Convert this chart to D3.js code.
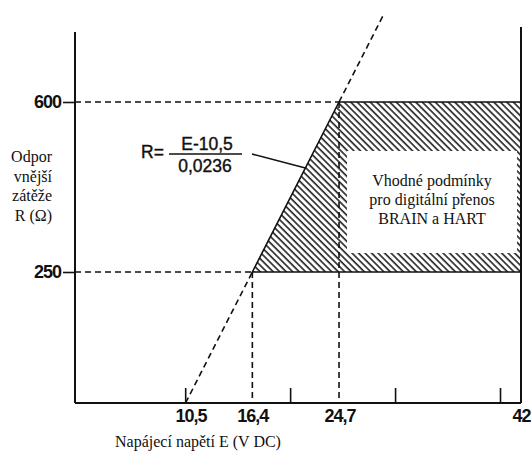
<!DOCTYPE html>
<html>
<head>
<meta charset="utf-8">
<script src="https://cdn.jsdelivr.net/npm/d3@7"></script>
<style>
  body { margin: 0; background: #fff; }
  svg { display: block; }
  .serif { font-family: "Liberation Serif", "Times New Roman", serif; font-size: 16px; fill: #111; }
  .sans { font-family: "Liberation Sans", Arial, sans-serif; fill: #111; }
</style>
</head>
<body>
<svg width="531" height="451"></svg>
<script>
// values
var eMinorTicks = [10, 20, 30, 40];          // small tick marks on the E axis
var eLabels = [10.5, 16.4, 24.7, 42];        // labelled voltages
var rLabels = [250, 600];                    // labelled resistances
var eOffset = 10.5, eSlope = 0.0236;         // R = (E - 10,5) / 0,0236
var boxLines = ["Vhodné podmínky", "pro digitální přenos", "BRAIN a HART"];
var yTitleLines = ["Odpor", "vnější", "zátěže", "R (Ω)"];
var xTitle = "Napájecí napětí E (V DC)";

var svg = d3.select("svg"),
    width = +svg.attr("width"),
    height = +svg.attr("height");

var x = d3.scaleLinear().domain([-0.5, 42]).range([75, 521]);
var y = d3.scaleLinear().domain([250, 600]).range([272, 102]);

// voltage needed for a given load
function eOf(r) { return eOffset + eSlope * r; }

var axisY = 403, axisTop = 32;
var rBottom = y.invert(axisY), rLineTop = y.invert(13);
var rMin = rLabels[0], rMax = rLabels[1], eMax = eLabels[3];

// hatch pattern
var defs = svg.append("defs");
defs.append("pattern")
    .attr("id", "hatch")
    .attr("patternUnits", "userSpaceOnUse")
    .attr("width", 4.6)
    .attr("height", 4.6)
    .attr("patternTransform", "rotate(-45)")
  .append("line")
    .attr("x1", 1).attr("y1", 0)
    .attr("x2", 1).attr("y2", 4.6)
    .attr("stroke", "#111")
    .attr("stroke-width", 1.5);

// hatched region between the line and 42 V, 250..600 ohm
var region = [[eOf(rMin), rMin], [eOf(rMax), rMax], [eMax, rMax], [eMax, rMin]];
svg.append("path")
    .attr("d", d3.line().x(function (d) { return x(d[0]); }).y(function (d) { return y(d[1]); })(region) + "Z")
    .attr("fill", "url(#hatch)")
    .attr("stroke", "#111")
    .attr("stroke-width", 1.6);

// white box with the text
var boxX0 = x(eOf(rMax)) + 8, boxX1 = x(eMax) - 4,
    boxY0 = y(rMax) + 49, boxY1 = y(rMin) - 19;
svg.append("rect")
    .attr("x", boxX0).attr("y", boxY0)
    .attr("width", boxX1 - boxX0).attr("height", boxY1 - boxY0)
    .attr("fill", "#fff");

svg.append("text")
    .attr("class", "serif")
    .attr("text-anchor", "middle")
    .selectAll("tspan")
    .data(boxLines)
    .enter().append("tspan")
    .attr("x", (boxX0 + boxX1) / 2)
    .attr("y", function (d, i) { return 186 + i * 19; })
    .text(function (d) { return d; });

// dashed guides
var dashed = [
    [[-0.5, rMax], [eOf(rMax), rMax]],
    [[-0.5, rMin], [eOf(rMin), rMin]],
    [[eOf(rMin), rMin], [eOf(rMin), rBottom]],
    [[eOf(rMax), rMax], [eOf(rMax), rBottom]],
    [[eOf(rBottom), rBottom], [eOf(rMin), rMin]],
    [[eOf(rMax), rMax], [eOf(rLineTop), rLineTop]]
];
svg.append("g")
    .selectAll("line")
    .data(dashed)
    .enter().append("line")
    .attr("x1", function (d) { return x(d[0][0]); })
    .attr("y1", function (d) { return y(d[0][1]); })
    .attr("x2", function (d) { return x(d[1][0]); })
    .attr("y2", function (d) { return y(d[1][1]); })
    .attr("stroke", "#111")
    .attr("stroke-width", 1.6)
    .attr("stroke-dasharray", "6,4");

// axes lines
svg.append("line")
    .attr("x1", x(-0.5)).attr("x2", x(-0.5))
    .attr("y1", axisTop).attr("y2", axisY)
    .attr("stroke", "#111").attr("stroke-width", 2);
svg.append("line")
    .attr("x1", x(-0.5)).attr("x2", x(eMax))
    .attr("y1", axisY).attr("y2", axisY)
    .attr("stroke", "#111").attr("stroke-width", 2);
svg.append("line")
    .attr("x1", x(eMax)).attr("x2", x(eMax))
    .attr("y1", 27).attr("y2", axisY)
    .attr("stroke", "#111").attr("stroke-width", 2);

// y ticks and labels
var yAxis = svg.append("g")
    .attr("transform", "translate(" + x(-0.5) + ",0)")
    .call(d3.axisLeft(y).tickValues(rLabels).tickSize(12).tickPadding(2).tickFormat(d3.format("d")));
yAxis.select(".domain").remove();
yAxis.selectAll("line").attr("stroke", "#111").attr("stroke-width", 1.6);
yAxis.selectAll("text")
    .attr("class", "sans")
    .style("font-size", "18px")
    .style("font-weight", "bold")
    .style("letter-spacing", "-1px");

// small ticks on the E axis
var xMinor = svg.append("g")
    .attr("transform", "translate(0," + axisY + ")")
    .call(d3.axisTop(x).tickValues(eMinorTicks).tickSize(15).tickFormat(""));
xMinor.select(".domain").remove();
xMinor.selectAll("line").attr("stroke", "#111").attr("stroke-width", 1.6);

// E labels
var xAxis = svg.append("g")
    .attr("transform", "translate(0," + axisY + ")")
    .call(d3.axisBottom(x).tickValues(eLabels).tickSize(0).tickPadding(6)
        .tickFormat(function (d) { return String(d).replace(".", ","); }));
xAxis.select(".domain").remove();
xAxis.selectAll("text")
    .attr("class", "sans")
    .style("font-size", "18px")
    .style("font-weight", "bold")
    .style("letter-spacing", "-1px");

// axis titles
svg.append("text")
    .attr("class", "serif")
    .attr("x", 198).attr("y", 447)
    .attr("text-anchor", "middle")
    .text(xTitle);

svg.append("text")
    .attr("class", "serif")
    .attr("text-anchor", "end")
    .selectAll("tspan")
    .data(yTitleLines)
    .enter().append("tspan")
    .attr("x", 52)
    .attr("y", function (d, i) { return 162 + i * 19.5; })
    .text(function (d) { return d; });

// formula annotation
var formula = svg.append("g").attr("class", "sans")
    .style("font-size", "17.5px")
    .style("stroke", "#111")
    .style("stroke-width", "0.4px");
formula.append("text").attr("x", 141).attr("y", 158).text("R=");
formula.append("text").attr("x", 207).attr("y", 150).attr("text-anchor", "middle").text("E-10,5");
formula.append("text").attr("x", 205).attr("y", 172).attr("text-anchor", "middle").text("0,0236");
formula.append("line")
    .attr("x1", 169).attr("x2", 242).attr("y1", 154).attr("y2", 154)
    .attr("stroke", "#111").attr("stroke-width", 1.4);
var rLead = y.invert(168);
formula.append("line")
    .attr("x1", 252).attr("y1", 154)
    .attr("x2", x(eOf(rLead))).attr("y2", y(rLead))
    .attr("stroke", "#111").attr("stroke-width", 1.6);
</script>
</body>
</html>
